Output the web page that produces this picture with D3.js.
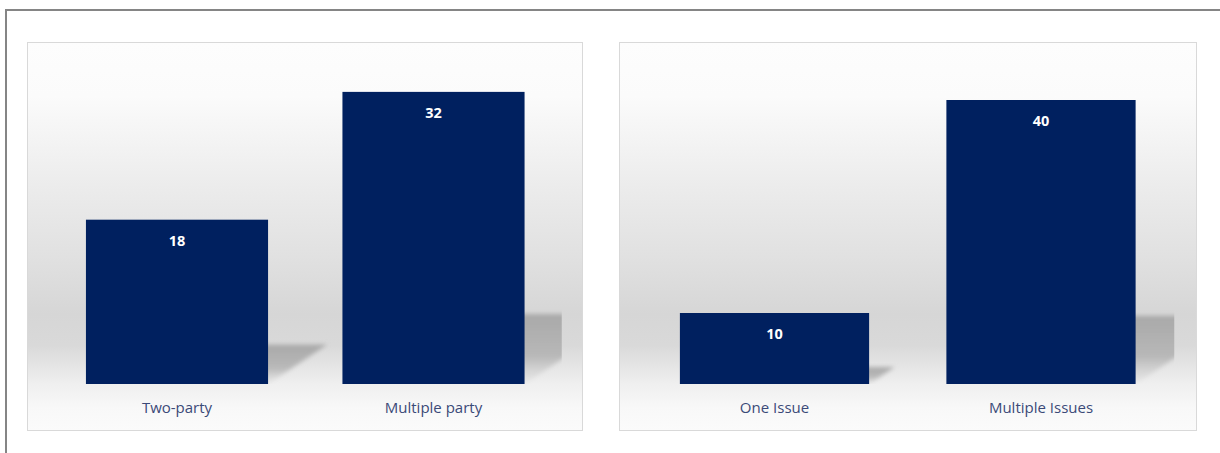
<!DOCTYPE html>
<html>
<head>
<meta charset="utf-8">
<script src="https://cdn.jsdelivr.net/npm/d3@7"></script>
<style>
  html, body { margin: 0; padding: 0; background: #ffffff; }
  svg { display: block; }
</style>
</head>
<body>
<svg id="chart" width="1220" height="453"></svg>
<script>
// ---- data ----
const categoriesLeft = ["Two-party", "Multiple party"];
const valuesLeft = [18, 32];
const axisMaxLeft = 35;

const categoriesRight = ["One Issue", "Multiple Issues"];
const valuesRight = [10, 40];
const axisMaxRight = 45;

// ---- layout ----
const W = 1220, H = 453;
const svg = d3.select("#chart");
const defs = svg.append("defs");

// outer frame
svg.append("line").attr("x1", 5).attr("x2", W).attr("y1", 10).attr("y2", 10)
  .attr("stroke", "#858585").attr("stroke-width", 2);
svg.append("line").attr("x1", 6).attr("x2", 6).attr("y1", 9).attr("y2", H)
  .attr("stroke", "#858585").attr("stroke-width", 2);

// background gradient
const bg = defs.append("linearGradient").attr("id", "bgGrad")
  .attr("x1", 0).attr("x2", 0).attr("y1", 0).attr("y2", 1);
[[0, "#fdfdfd"], [0.14, "#fbfbfb"], [0.35, "#ededed"], [0.55, "#e1e1e1"],
 [0.70, "#d6d6d6"], [0.78, "#d9d9d9"], [0.88, "#efefef"], [0.94, "#f8f8f8"], [1, "#fbfbfb"]]
  .forEach(([o, c]) => bg.append("stop").attr("offset", o).attr("stop-color", c));

// shadow gradient
const sg = defs.append("linearGradient").attr("id", "shGrad")
  .attr("x1", 0).attr("x2", 0).attr("y1", 0).attr("y2", 1);
[[0, "#a9a9a9", 1], [0.6, "#b4b4b4", 0.9], [1, "#d0d0d0", 0.15]]
  .forEach(([o, c, a]) => sg.append("stop").attr("offset", o).attr("stop-color", c).attr("stop-opacity", a));

const blur = defs.append("filter").attr("id", "blur")
  .attr("x", "-20%").attr("y", "-20%").attr("width", "140%").attr("height", "140%");
blur.append("feGaussianBlur").attr("stdDeviation", 2);

const panels = [
  { id: "L", cats: categoriesLeft, vals: valuesLeft, max: axisMaxLeft,
    box: [27, 42, 555, 388], plotX: [48.75, 561.75] },
  { id: "R", cats: categoriesRight, vals: valuesRight, max: axisMaxRight,
    box: [619, 42, 577, 388], plotX: [641.25, 1174.25] }
];
const plotTop = 64.5, plotBottom = 384;
const shearX = 0.36, shearY = 0.24;

panels.forEach(p => {
  const [bx, by, bw, bh] = p.box;
  svg.append("rect").attr("x", bx + 0.5).attr("y", by + 0.5)
    .attr("width", bw).attr("height", bh)
    .attr("fill", "url(#bgGrad)").attr("stroke", "#d9d9d9").attr("stroke-width", 1);

  const x = d3.scaleBand().domain(p.cats).range(p.plotX)
    .paddingInner(0.29).paddingOuter(0.145);
  const y = d3.scaleLinear().domain([0, p.max]).range([plotBottom, plotTop]);

  defs.append("clipPath").attr("id", "clip" + p.id)
    .append("rect").attr("x", p.plotX[0]).attr("y", plotTop - 5)
    .attr("width", p.plotX[1] - p.plotX[0]).attr("height", plotBottom - plotTop + 5);

  const g = svg.append("g");
  const data = p.cats.map((c, i) => ({ c, v: p.vals[i] }));

  // perspective shadows
  g.append("g").attr("clip-path", `url(#clip${p.id})`)
    .selectAll("path").data(data).join("path")
    .attr("d", d => {
      const x0 = x(d.c), x1 = x0 + x.bandwidth();
      const h = y(0) - y(d.v);
      const dx = shearX * h, dy = shearY * h;
      return `M${x0},${y(0)} L${x1},${y(0)} L${x1 + dx},${y(0) - dy} L${x0 + dx},${y(0) - dy} Z`;
    })
    .attr("fill", "url(#shGrad)")
    .attr("filter", "url(#blur)");

  // bars
  g.selectAll("rect.bar").data(data).join("rect").attr("class", "bar")
    .attr("x", d => x(d.c)).attr("width", x.bandwidth())
    .attr("y", d => y(d.v)).attr("height", d => y(0) - y(d.v))
    .attr("fill", "#00205f");

  // value labels
  g.selectAll("text.val").data(data).join("text").attr("class", "val")
    .attr("x", d => x(d.c) + x.bandwidth() / 2)
    .attr("y", d => y(d.v) + 26)
    .attr("text-anchor", "middle")
    .attr("font-family", "'Open Sans', sans-serif")
    .attr("font-weight", "bold").attr("font-size", 14.5)
    .attr("fill", "#ffffff")
    .text(d => d.v);

  // category axis labels
  const axis = d3.axisBottom(x).tickSize(0).tickPadding(0);
  const ax = g.append("g").attr("transform", `translate(0,${plotBottom + 24})`).call(axis);
  ax.select(".domain").remove();
  ax.selectAll("text")
    .attr("dy", "0.35em")
    .attr("font-family", "'Open Sans', sans-serif")
    .attr("font-size", 15)
    .attr("fill", "#3b4a78");
});
</script>
</body>
</html>
